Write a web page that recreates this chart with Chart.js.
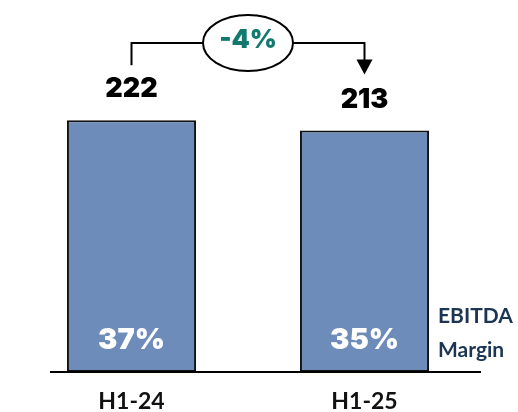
<!DOCTYPE html>
<html>
<head>
<meta charset="utf-8">
<script src="https://cdn.jsdelivr.net/npm/chart.js@4/dist/chart.umd.min.js"></script>
<style>
html,body{margin:0;padding:0;background:#fff;}
#wrap{width:518px;height:412px;position:relative;}
</style>
</head>
<body>
<div id="wrap"><canvas id="c" width="518" height="412"></canvas></div>
<script>
const categories = ["H1-24", "H1-25"];
const ebitda = [222, 213];
const margins = ["37%", "35%"];
const changeLabel = "-4%";
const sideLabel = ["EBITDA", "Margin"];

const FONT = "Lato, 'DejaVu Sans', sans-serif";
const HEAVY = "Inter, Lato, 'DejaVu Sans', sans-serif";

const decor = {
  id: 'decor',
  afterDatasetsDraw(chart) {
    const ctx = chart.ctx;
    const meta = chart.getDatasetMeta(0);
    const area = chart.chartArea;
    ctx.save();
    // baseline
    ctx.strokeStyle = '#000';
    ctx.lineWidth = 2;
    ctx.beginPath();
    ctx.moveTo(50, area.bottom);
    ctx.lineTo(area.right, area.bottom);
    ctx.stroke();

    // value labels and margins
    meta.data.forEach((bar, i) => {
      ctx.fillStyle = '#000';
      ctx.font = "900 27px " + HEAVY;
      ctx.textAlign = 'center';
      ctx.textBaseline = 'middle';
      ctx.fillText(String(ebitda[i]), bar.x, bar.y - 31);
      ctx.fillStyle = '#fff';
      ctx.font = "900 29px " + HEAVY;
      ctx.fillText(margins[i], bar.x, area.bottom - 32);
    });

    // connector
    const b0 = meta.data[0], b1 = meta.data[1];
    const yTop = 43;
    const cx = (b0.x + b1.x) / 2;
    const rx = 45, ry = 28;
    ctx.strokeStyle = '#000';
    ctx.lineWidth = 2;
    ctx.beginPath();
    ctx.moveTo(b0.x, b0.y - 55);
    ctx.lineTo(b0.x, yTop);
    ctx.lineTo(cx - rx, yTop);
    ctx.moveTo(cx + rx, yTop);
    ctx.lineTo(b1.x, yTop);
    ctx.lineTo(b1.x, b1.y - 70);
    ctx.stroke();
    // arrowhead
    ctx.fillStyle = '#000';
    ctx.beginPath();
    ctx.moveTo(b1.x - 8, b1.y - 71);
    ctx.lineTo(b1.x + 8, b1.y - 71);
    ctx.lineTo(b1.x, b1.y - 56);
    ctx.closePath();
    ctx.fill();
    // ellipse
    ctx.beginPath();
    ctx.ellipse(cx, yTop, rx, ry, 0, 0, Math.PI * 2);
    ctx.fillStyle = '#fff';
    ctx.fill();
    ctx.lineWidth = 2;
    ctx.stroke();
    ctx.fillStyle = '#13796f';
    ctx.font = "900 26px " + HEAVY;
    ctx.textAlign = 'center';
    ctx.textBaseline = 'middle';
    ctx.fillText(changeLabel, cx, yTop - 3);

    // side label
    ctx.fillStyle = '#1c3553';
    ctx.font = "700 21px " + FONT;
    ctx.textAlign = 'left';
    ctx.fillText(sideLabel[0], 438, 316);
    ctx.fillText(sideLabel[1], 438, 350);
    ctx.restore();
  }
};

new Chart(document.getElementById('c'), {
  type: 'bar',
  data: {
    labels: categories,
    datasets: [{
      data: ebitda,
      backgroundColor: '#6e8cb9',
      borderColor: '#111',
      borderWidth: 2,
      borderSkipped: false,
      barPercentage: 0.554,
      categoryPercentage: 1
    }]
  },
  options: {
    responsive: false,
    animation: false,
    events: [],
    layout: { padding: { left: 15, right: 37, top: 0, bottom: 0 } },
    plugins: { legend: { display: false }, tooltip: { enabled: false } },
    scales: {
      x: {
        grid: { display: false, drawTicks: false },
        border: { display: false },
        ticks: { color: '#111', font: { family: FONT, size: 23, weight: '700' }, padding: 16 },
        afterFit(scale) { scale.height = 40; }
      },
      y: { display: false, min: 0, max: 328 }
    }
  },
  plugins: [decor]
});
</script>
</body>
</html>
